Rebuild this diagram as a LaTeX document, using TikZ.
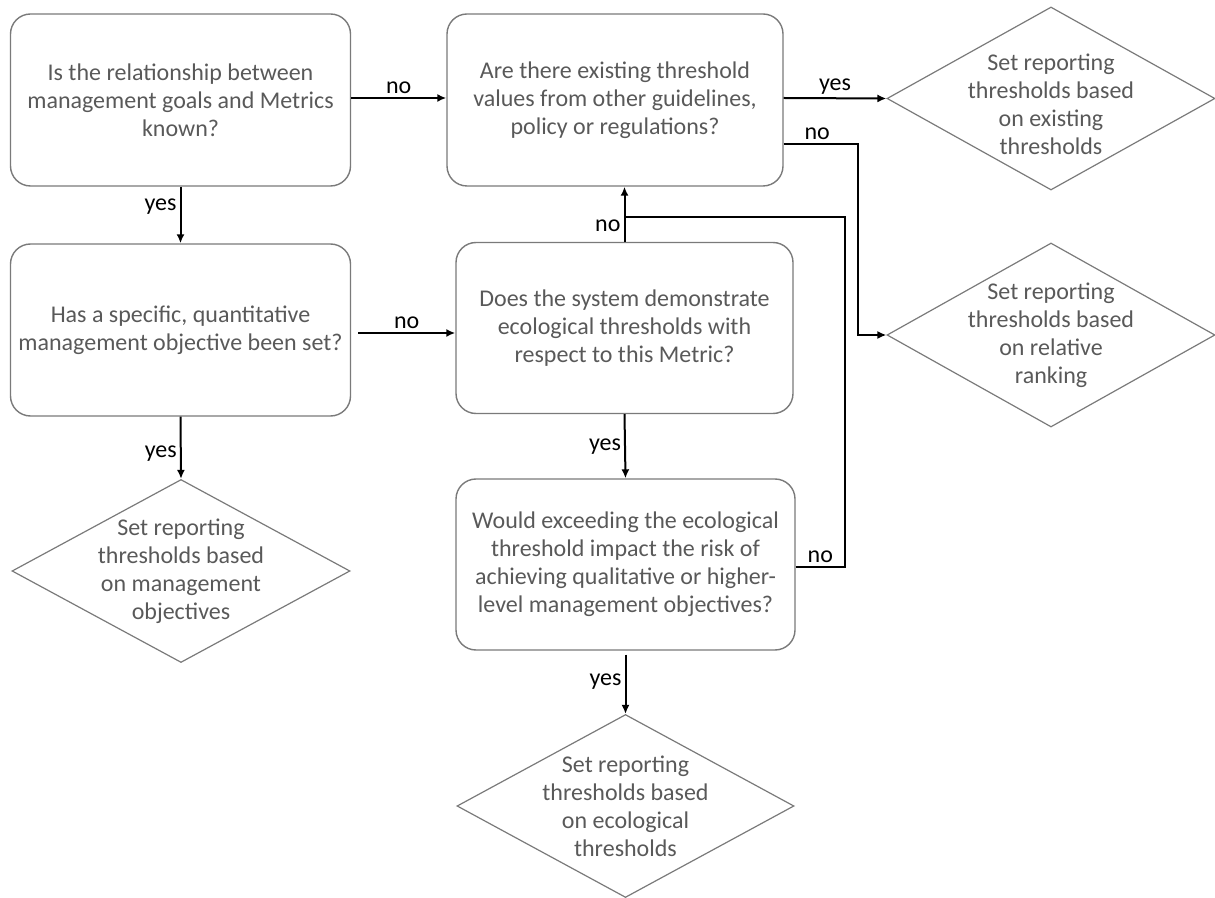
\documentclass[tikz,border=0pt]{standalone}
\usepackage{fontspec}
\setmainfont{Carlito}
\usetikzlibrary{shapes.geometric,arrows.meta}
\definecolor{txtgray}{HTML}{595959}
\definecolor{boxgray}{HTML}{7A7A7A}
\tikzset{
  qbox/.style={draw=boxgray, line width=0.7pt, rounded corners=10pt, align=center,
    text=txtgray, font=\fontsize{12}{14}\selectfont, inner sep=0pt},
  outbox/.style={draw=boxgray, line width=0.6pt, shape=diamond, inner sep=0pt,
    minimum width=#1},
  dtext/.style={align=center, text=txtgray, font=\fontsize{12}{14}\selectfont},
  flow/.style={draw=black, line width=1pt, -{Latex[length=4.5pt,width=4pt]}},
  lab/.style={font=\fontsize{12}{14}\selectfont, text=black, inner sep=1.5pt},
}
\begin{document}
\begin{tikzpicture}[x=0.5pt,y=-0.5pt]
\useasboundingbox (0,0) rectangle (1215,898);
% question boxes
\node[qbox, minimum width=170pt, minimum height=86pt] (A) at (180.5,100)
  {Is the relationship between\\management goals and Metrics\\known?};
\node[qbox, minimum width=170pt, minimum height=86pt] (B) at (180.5,330)
  {Has a specific, quantitative\\management objective been set?};
\node[qbox, minimum width=168pt, minimum height=86pt] (C) at (615,100)
  {Are there existing threshold\\values from other guidelines,\\policy or regulations?};
\node[qbox, minimum width=168.5pt, minimum height=85.5pt] (E) at (624.5,328)
  {Does the system demonstrate\\ecological thresholds with\\respect to this Metric?};
\node[qbox, minimum width=169.5pt, minimum height=85.5pt] (F) at (625.5,564.5)
  {Would exceeding the ecological\\threshold impact the risk of\\achieving qualitative or higher-\\level management objectives?};
% outcome diamonds
\node[outbox=169pt, minimum height=91.5pt,
  label={[dtext]center:Set reporting\\thresholds based\\on management\\objectives}] (D1) at (181,571) {};
\node[outbox=164pt, minimum height=91.5pt,
  label={[dtext, yshift=-3pt]center:Set reporting\\thresholds based\\on existing\\thresholds}] (D2) at (1051,98.5) {};
\node[outbox=164pt, minimum height=92pt,
  label={[dtext]center:Set reporting\\thresholds based\\on relative\\ranking}] (D3) at (1051,335) {};
\node[outbox=168.5pt, minimum height=91.5pt,
  label={[dtext]center:Set reporting\\thresholds based\\on ecological\\thresholds}] (D4) at (625.5,806) {};
% connectors
\coordinate (J) at (E.north |- 0,217);
\draw[flow] (A.east |- 0,98) -- node[lab, above] {no} (C.west |- 0,98);
\draw[flow] (A.south) -- node[lab, left, pos=0.35] {yes} (B.north);
\draw[flow] ([xshift=3.5pt]B.east |- 0,333) -- node[lab, above] {no} (E.west |- 0,333);
\draw[flow] (B.south) -- node[lab, left, pos=0.6] {yes} (D1.north);
\draw[flow] (C.east |- 0,98) -- node[lab, above] {yes} (D2.west);
\draw[flow] (C.east |- 0,144) -- node[lab, above, pos=0.45] {no} (858,144) |- (D3.west);
\draw[flow] (E.north) -- node[lab, left, pos=0.3] {no} (E.north |- C.south);
\draw[line width=1pt] (F.east |- 0,567) -- node[lab, above] {no} (845,567) |- (J);
\draw[flow] (E.south) -- node[lab, left, pos=0.5] {yes} (F.north);
\draw[flow] ([yshift=-2pt]F.south) -- node[lab, left, pos=0.45] {yes} (D4.north);
\end{tikzpicture}
\end{document}
